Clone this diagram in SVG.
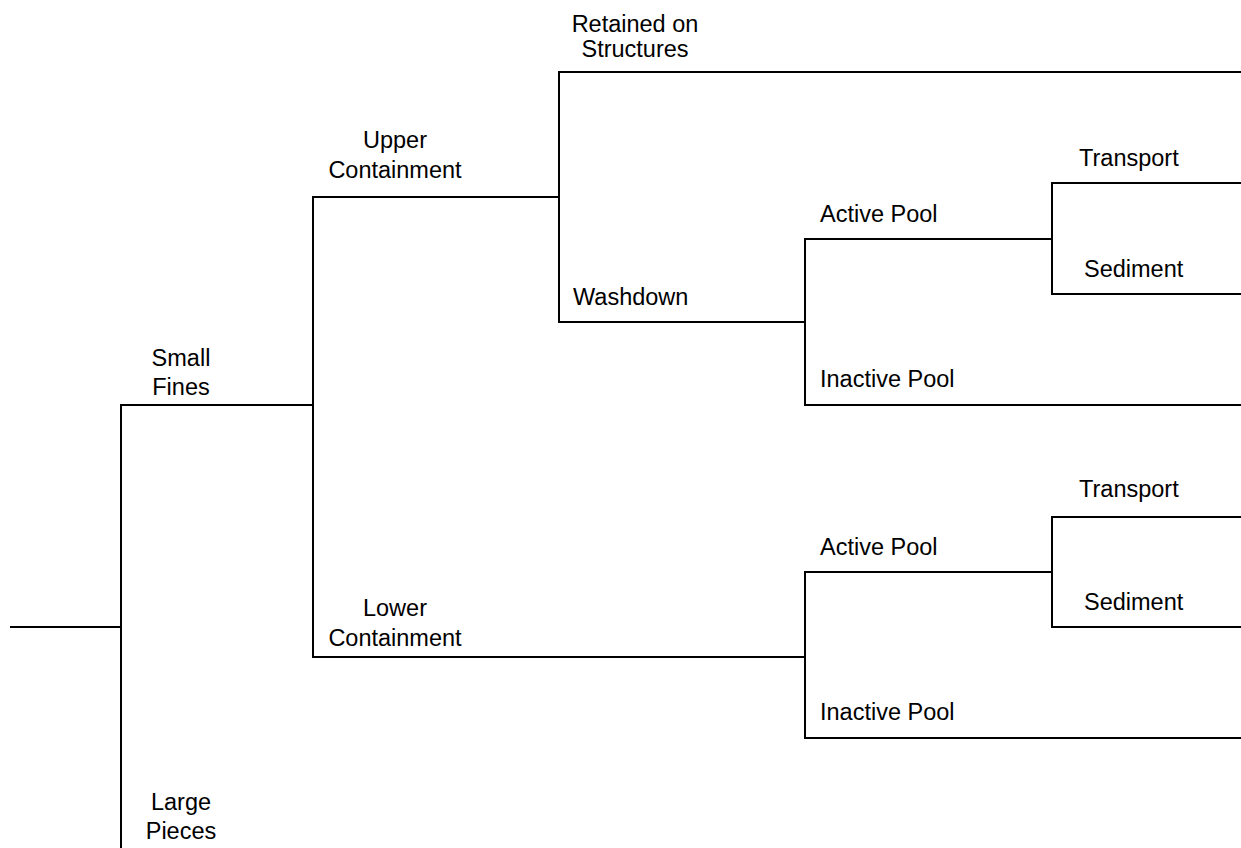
<svg xmlns="http://www.w3.org/2000/svg" width="1241" height="848" viewBox="0 0 1241 848">
<style>
.c{fill:none;stroke:#000;stroke-width:2;stroke-linecap:square}
text{font-family:"Liberation Sans",Arial,sans-serif;font-size:23.5px;fill:#000}
.m{text-anchor:middle}
</style>
<rect width="1241" height="848" fill="#fff"/>
<g id="connectors">
<path class="c" d="M11,627H121"/>
<path class="c" d="M121,848V405H313"/>
<path class="c" d="M313,197V657"/>
<path class="c" d="M313,197H559"/>
<path class="c" d="M313,657H805"/>
<path class="c" d="M559,72V322"/>
<path class="c" d="M559,72H1241"/>
<path class="c" d="M559,322H805"/>
<path class="c" d="M805,239V405H1241"/>
<path class="c" d="M805,239H1052"/>
<path class="c" d="M1052,183V294H1241"/>
<path class="c" d="M1052,183H1241"/>
<path class="c" d="M805,572V738H1241"/>
<path class="c" d="M805,572H1052"/>
<path class="c" d="M1052,517V627H1241"/>
<path class="c" d="M1052,517H1241"/>
</g>
<g id="small-fines"><text class="m" x="181" y="366">Small</text><text class="m" x="181" y="395">Fines</text></g>
<g id="large-pieces"><text class="m" x="181" y="810">Large</text><text class="m" x="181" y="839">Pieces</text></g>
<g id="upper-containment"><text class="m" x="395" y="148">Upper</text><text class="m" x="395" y="178">Containment</text></g>
<g id="lower-containment"><text class="m" x="395" y="616">Lower</text><text class="m" x="395" y="646">Containment</text></g>
<g id="retained"><text class="m" x="635" y="32">Retained on</text><text class="m" x="635" y="57">Structures</text></g>
<g id="washdown"><text x="573" y="305">Washdown</text></g>
<g id="active-pool-1"><text x="820" y="222">Active Pool</text></g>
<g id="inactive-pool-1"><text x="820" y="387">Inactive Pool</text></g>
<g id="transport-1"><text x="1079" y="166">Transport</text></g>
<g id="sediment-1"><text x="1084" y="277">Sediment</text></g>
<g id="active-pool-2"><text x="820" y="555">Active Pool</text></g>
<g id="inactive-pool-2"><text x="820" y="720">Inactive Pool</text></g>
<g id="transport-2"><text x="1079" y="497">Transport</text></g>
<g id="sediment-2"><text x="1084" y="610">Sediment</text></g>
</svg>
